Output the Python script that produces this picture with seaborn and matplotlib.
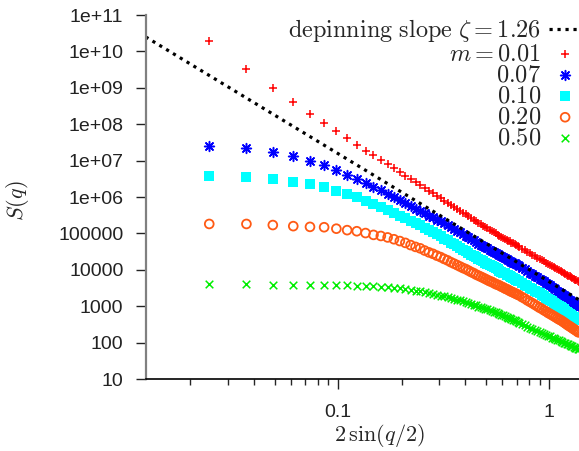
import numpy as np
import pandas as pd
import matplotlib
matplotlib.use('Agg')
import matplotlib.pyplot as plt
import seaborn as sb
from matplotlib.ticker import FixedLocator, FixedFormatter, NullFormatter


# system size and Fourier mode indices k (q = 2 pi k / L)
L = 512
k_modes = list(range(2, 61)) + list(range(62, 125, 2))

# log10 S(q), one list per mass m
logS_001 = [10.29, 9.52, 8.99, 8.61, 8.29, 8.02, 7.80, 7.62, 7.43, 7.27, 7.15, 7.03, 6.91,
            6.80, 6.69, 6.59, 6.50, 6.41, 6.33, 6.25, 6.17, 6.10, 6.03,
            5.97, 5.90, 5.84, 5.78, 5.72, 5.67, 5.62, 5.57, 5.52, 5.47, 5.42, 5.38,
            5.33, 5.29, 5.25, 5.21, 5.17, 5.14, 5.10, 5.07, 5.04, 5.00, 4.97, 4.94,
            4.91, 4.88, 4.86, 4.83, 4.80, 4.78, 4.75, 4.73, 4.70, 4.68, 4.65, 4.63,
            4.58, 4.54, 4.49, 4.45, 4.41, 4.37, 4.33, 4.29, 4.26, 4.23, 4.19, 4.16,
            4.13, 4.10, 4.07, 4.04, 4.02, 3.99, 3.96, 3.94, 3.91, 3.89, 3.86, 3.84,
            3.82, 3.79, 3.77, 3.75, 3.73, 3.71, 3.69, 3.67]
logS_007 = [7.41, 7.34, 7.24, 7.13, 6.99, 6.87, 6.73, 6.61, 6.49, 6.38, 6.28, 6.18, 6.08,
            5.99, 5.91, 5.83, 5.75, 5.68, 5.61, 5.55, 5.49, 5.44, 5.38,
            5.34, 5.28, 5.23, 5.18, 5.13, 5.08, 5.04, 4.99, 4.94, 4.90, 4.85, 4.81,
            4.77, 4.72, 4.69, 4.65, 4.62, 4.59, 4.55, 4.52, 4.49, 4.46, 4.44, 4.41,
            4.38, 4.35, 4.32, 4.30, 4.27, 4.25, 4.22, 4.20, 4.18, 4.15, 4.13, 4.11,
            4.06, 4.01, 3.97, 3.92, 3.88, 3.84, 3.80, 3.76, 3.72, 3.68, 3.64, 3.60,
            3.57, 3.53, 3.50, 3.47, 3.43, 3.40, 3.37, 3.34, 3.30, 3.27, 3.24, 3.21,
            3.18, 3.15, 3.12, 3.10, 3.07, 3.05, 3.02, 2.99]
logS_010 = [6.59, 6.55, 6.49, 6.42, 6.36, 6.28, 6.17, 6.08, 6.00, 5.90, 5.81, 5.72, 5.64,
            5.56, 5.48, 5.41, 5.34, 5.28, 5.22, 5.15, 5.09, 5.03, 4.98,
            4.92, 4.86, 4.81, 4.75, 4.70, 4.65, 4.60, 4.55, 4.51, 4.46, 4.42, 4.38,
            4.34, 4.30, 4.26, 4.23, 4.19, 4.16, 4.13, 4.10, 4.07, 4.04, 4.01, 3.98,
            3.95, 3.92, 3.90, 3.87, 3.85, 3.82, 3.80, 3.77, 3.75, 3.73, 3.70, 3.68,
            3.64, 3.59, 3.55, 3.50, 3.46, 3.42, 3.38, 3.35, 3.31, 3.27, 3.23, 3.20,
            3.16, 3.13, 3.10, 3.06, 3.03, 3.00, 2.97, 2.94, 2.91, 2.88, 2.85, 2.82,
            2.79, 2.76, 2.74, 2.71, 2.68, 2.66, 2.64, 2.61]
logS_020 = [5.26, 5.26, 5.23, 5.20, 5.18, 5.17, 5.13, 5.09, 5.06, 5.01, 4.96, 4.93, 4.89,
            4.84, 4.79, 4.74, 4.68, 4.63, 4.59, 4.53, 4.48, 4.44, 4.39,
            4.35, 4.30, 4.26, 4.21, 4.17, 4.13, 4.09, 4.05, 4.02, 3.98, 3.94, 3.91,
            3.87, 3.84, 3.81, 3.78, 3.75, 3.72, 3.69, 3.67, 3.64, 3.61, 3.59, 3.57,
            3.54, 3.52, 3.49, 3.47, 3.45, 3.42, 3.40, 3.38, 3.36, 3.34, 3.32, 3.30,
            3.25, 3.21, 3.16, 3.12, 3.08, 3.04, 3.00, 2.96, 2.93, 2.89, 2.86, 2.82,
            2.79, 2.76, 2.73, 2.70, 2.67, 2.64, 2.62, 2.59, 2.56, 2.53, 2.50, 2.47,
            2.45, 2.42, 2.40, 2.37, 2.35, 2.33, 2.30, 2.28]
logS_050 = [3.61, 3.60, 3.59, 3.59, 3.58, 3.57, 3.57, 3.57, 3.56, 3.55, 3.55, 3.54, 3.53,
            3.51, 3.49, 3.47, 3.45, 3.43, 3.42, 3.39, 3.36, 3.34, 3.31,
            3.29, 3.27, 3.24, 3.22, 3.20, 3.18, 3.16, 3.13, 3.11, 3.08, 3.06, 3.04,
            3.02, 2.99, 2.97, 2.95, 2.93, 2.91, 2.89, 2.87, 2.85, 2.83, 2.81, 2.79,
            2.77, 2.75, 2.73, 2.71, 2.69, 2.67, 2.65, 2.63, 2.61, 2.59, 2.57, 2.55,
            2.52, 2.48, 2.44, 2.41, 2.38, 2.35, 2.32, 2.29, 2.26, 2.24, 2.21, 2.19,
            2.17, 2.14, 2.12, 2.10, 2.08, 2.06, 2.04, 2.02, 2.00, 1.98, 1.96, 1.95,
            1.93, 1.91, 1.90, 1.88, 1.86, 1.85, 1.83, 1.82]

masses = ['0.01', '0.07', '0.10', '0.20', '0.50']
legend_labels = ['$m = 0.01$', '$0.07$', '$0.10$', '$0.20$', '$0.50$']

# depinning roughness, S(q) ~ q^-(1+2 zeta)
zeta = 1.26
slope_amp = 4700.0

x_lim = (2 * np.sin(np.pi / L), 1.383)
y_ticks = [10.0 ** e for e in range(1, 12)]


q = 2 * np.pi * np.array(k_modes) / L
x = 2 * np.sin(q / 2)
frames = []
for m, ls in zip(masses, [logS_001, logS_007, logS_010, logS_020, logS_050]):
    frames.append(pd.DataFrame({'x': x, 'S': 10.0 ** np.array(ls), 'm': m}))
df = pd.concat(frames, ignore_index=True)

sb.set_style('ticks')
plt.rcParams['font.family'] = ['Liberation Sans', 'DejaVu Sans']
plt.rcParams['mathtext.fontset'] = 'cm'

f = plt.figure(figsize=(5.79, 4.51), dpi=100)
ax = f.add_axes([0.2516, 0.1596, 0.7484, 0.8071])
ax.set_xscale('log')
ax.set_yscale('log')

xs = np.array(x_lim)
sb.lineplot(x=xs, y=slope_amp * xs ** (-(1 + 2 * zeta)), ax=ax, color='k',
            lw=2.3, linestyle=(0, (1, 1.5)), dash_capstyle='butt',
            label='$\\mathrm{depinning\\ slope}\\ \\zeta = 1.26$')

styles = {
    '0.01': dict(marker='+', s=36, color='#ff0000', linewidth=1.1),
    '0.07': dict(marker=(8, 2, 0), s=50, color='#0000ff', linewidth=1.1),
    '0.10': dict(marker='s', s=50, color='#00ffff', linewidth=0),
    '0.20': dict(marker='o', s=40, facecolors='none', edgecolor='#ff5a14', linewidth=1.3),
    '0.50': dict(marker='x', s=30, color='#00ee00', linewidth=1.1),
}
for m, lab in zip(masses, legend_labels):
    sb.scatterplot(data=df[df['m'] == m], x='x', y='S', ax=ax, label=lab, **styles[m])

ax.set_xlim(*x_lim)
ax.set_ylim(10, 1e11)

ax.yaxis.set_major_locator(FixedLocator(y_ticks))
ax.yaxis.set_major_formatter(FixedFormatter(['%g' % v for v in y_ticks]))
ax.yaxis.set_minor_locator(FixedLocator([]))
ax.xaxis.set_major_locator(FixedLocator([0.1, 1.0]))
ax.xaxis.set_major_formatter(FixedFormatter(['0.1', '1']))
ax.xaxis.set_minor_locator(FixedLocator([0.02, 0.03, 0.04, 0.05, 0.06, 0.07, 0.08, 0.09,
                                         0.2, 0.3, 0.4, 0.5, 0.6, 0.7, 0.8, 0.9]))
ax.xaxis.set_minor_formatter(NullFormatter())

ax.tick_params(axis='both', which='major', direction='out', length=7, width=1,
               labelsize=14, colors='#222222')
ax.tick_params(axis='y', pad=9)
ax.tick_params(axis='x', pad=11)
ax.tick_params(axis='x', which='minor', direction='out', length=4, width=1)

for s in ['top', 'right']:
    ax.spines[s].set_visible(False)
ax.spines['left'].set_color('#808080')
ax.spines['left'].set_linewidth(1.6)
ax.spines['bottom'].set_color('k')
ax.spines['bottom'].set_linewidth(1.2)

ax.set_xlabel('$2\\,\\sin(q/2)$', fontsize=16)
ax.set_ylabel('$S(q)$', fontsize=16)
ax.xaxis.set_label_coords(0.54, -0.118)
ax.yaxis.set_label_coords(-0.265, 0.49)

ax.legend(loc='upper right', bbox_to_anchor=(1.01, 1.0), frameon=False,
          markerfirst=False, scatterpoints=1, fontsize=17.5, labelspacing=-0.04,
          handlelength=1.3, handletextpad=0.35, borderaxespad=0, borderpad=0.1)

f.savefig('out.png', dpi=100)
